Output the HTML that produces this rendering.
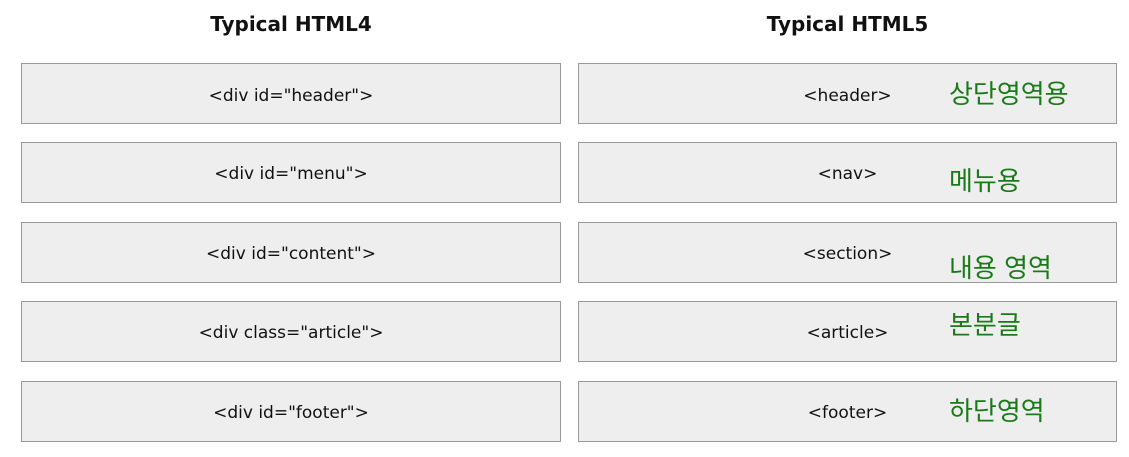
<!DOCTYPE html>
<html><head><meta charset="utf-8"><style>
body{margin:0;width:1129px;height:457px;background:#fff;position:relative;font-family:"Liberation Sans","DejaVu Sans",sans-serif;overflow:hidden}
.h{position:absolute;top:12px;font-weight:bold;font-size:20px;color:#111;text-align:center;font-family:"DejaVu Sans",sans-serif}
.b{position:absolute;height:61px;background:#eeeeee;border:1px solid #9a9a9a;box-sizing:border-box;font-family:"DejaVu Sans",sans-serif;font-size:17px;color:#111;line-height:61px;padding-top:3px;text-align:center}
.k{position:absolute;left:949px;color:#1a7a1a;font-size:26px;font-family:"Liberation Sans","Noto Sans CJK KR",sans-serif;line-height:1}
</style></head><body>
<div class="h" style="left:21px;width:540px">Typical HTML4</div>
<div class="h" style="left:578px;width:539px">Typical HTML5</div>

<div class="b" style="left:21px;top:63px;width:540px;line-height:59px">&lt;div id="header"&gt;</div>
<div class="b" style="left:21px;top:142px;width:540px;line-height:57px">&lt;div id="menu"&gt;</div>
<div class="b" style="left:21px;top:222px;width:540px;line-height:57px">&lt;div id="content"&gt;</div>
<div class="b" style="left:21px;top:301px;width:540px;line-height:57px">&lt;div class="article"&gt;</div>
<div class="b" style="left:21px;top:381px;width:540px;line-height:57px">&lt;div id="footer"&gt;</div>

<div class="b" style="left:578px;top:63px;width:539px;line-height:59px">&lt;header&gt;</div>
<div class="b" style="left:578px;top:142px;width:539px;line-height:57px">&lt;nav&gt;</div>
<div class="b" style="left:578px;top:222px;width:539px;line-height:57px">&lt;section&gt;</div>
<div class="b" style="left:578px;top:301px;width:539px;line-height:57px">&lt;article&gt;</div>
<div class="b" style="left:578px;top:381px;width:539px;line-height:57px">&lt;footer&gt;</div>

<div class="k" style="top:81px">상단영역용</div>
<div class="k" style="top:168px">메뉴용</div>
<div class="k" style="top:255px">내용 영역</div>
<div class="k" style="top:312px">본분글</div>
<div class="k" style="top:398px">하단영역</div>
</body></html>
